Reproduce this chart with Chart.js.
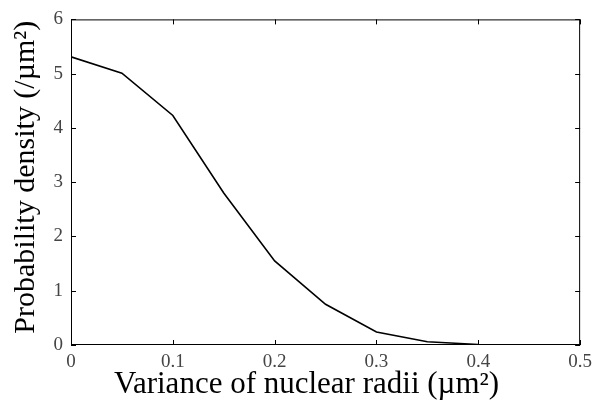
<!DOCTYPE html>
<html>
<head>
<meta charset="utf-8">
<script src="https://cdn.jsdelivr.net/npm/chart.js@4"></script>
<style>
  html, body { margin: 0; padding: 0; background: #fff; }
  #wrap { width: 598px; height: 400px; }
</style>
</head>
<body>
<div id="wrap"><canvas id="chart" width="598" height="400"></canvas></div>
<script>
// values
const variance = [0, 0.05, 0.1, 0.15, 0.2, 0.25, 0.3, 0.35, 0.4, 0.45, 0.5];
const density = [5.31, 5.01, 4.23, 2.8, 1.55, 0.75, 0.24, 0.06, 0.01, 0, 0];
const xTicks = [0, 0.1, 0.2, 0.3, 0.4, 0.5];
const yTicks = [0, 1, 2, 3, 4, 5, 6];
const xTitle = 'Variance of nuclear radii (\u00b5m\u00b2)';
const yTitle = 'Probability density (/\u00b5m\u00b2)';

const serif = '"Liberation Serif", "Times New Roman", serif';

// box around the plot with inward ticks on every side, plus axis titles
// (titles drawn here because they sit a little off-centre in the original)
const boxTicks = {
    id: 'boxTicks',
    afterDraw(chart) {
        const { ctx, chartArea: a, scales } = chart;
        const len = 5;
        ctx.save();
        ctx.strokeStyle = '#000';
        ctx.lineWidth = 1;
        ctx.strokeRect(a.left + 0.5, a.top + 0.5, a.right - a.left - 1, a.bottom - a.top - 1);
        ctx.beginPath();
        xTicks.forEach(v => {
            const x = Math.round(scales.x.getPixelForValue(v)) + 0.5;
            ctx.moveTo(x, a.bottom); ctx.lineTo(x, a.bottom - len);
            ctx.moveTo(x, a.top); ctx.lineTo(x, a.top + len);
        });
        yTicks.forEach(v => {
            const y = Math.round(scales.y.getPixelForValue(v)) + 0.5;
            ctx.moveTo(a.left, y); ctx.lineTo(a.left + len, y);
            ctx.moveTo(a.right, y); ctx.lineTo(a.right - len, y);
        });
        ctx.stroke();

        ctx.fillStyle = '#000';
        ctx.textAlign = 'center';
        ctx.textBaseline = 'alphabetic';
        ctx.font = '31px ' + serif;
        ctx.fillText(xTitle, (a.left + a.right) / 2 - 19, 393);

        ctx.font = '30px ' + serif;
        ctx.translate(34, (a.top + a.bottom) / 2 - 5);
        ctx.rotate(-Math.PI / 2);
        ctx.fillText(yTitle, 0, 0);
        ctx.restore();
    }
};

new Chart(document.getElementById('chart'), {
    type: 'line',
    data: {
        datasets: [{
            data: variance.map((v, i) => ({ x: v, y: density[i] })),
            borderColor: '#000',
            borderWidth: 1.6,
            pointRadius: 0,
            tension: 0,
            fill: false
        }]
    },
    options: {
        responsive: false,
        animation: false,
        layout: { padding: { top: 19, right: 16, left: 0, bottom: 0 } },
        plugins: { legend: { display: false }, tooltip: { enabled: false } },
        scales: {
            x: {
                type: 'linear',
                min: 0,
                max: 0.5,
                afterBuildTicks: s => { s.ticks = xTicks.map(v => ({ value: v })); },
                afterFit: s => { s.height = 55; },
                grid: { display: false, drawTicks: false },
                border: { display: false },
                ticks: {
                    padding: 6,
                    color: '#444',
                    font: { family: serif, size: 19 },
                    maxRotation: 0,
                    callback: v => String(v)
                },
                title: { display: false }
            },
            y: {
                min: 0,
                max: 6,
                afterBuildTicks: s => { s.ticks = yTicks.map(v => ({ value: v })); },
                afterFit: s => { s.width = 71; },
                grid: { display: false, drawTicks: false },
                border: { display: false },
                ticks: {
                    padding: 8,
                    color: '#444',
                    font: { family: serif, size: 19 }
                },
                title: { display: false }
            }
        }
    },
    plugins: [boxTicks]
});
</script>
</body>
</html>
